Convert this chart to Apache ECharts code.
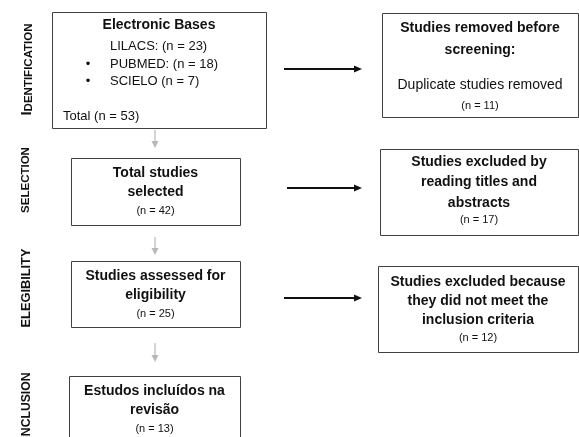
<!DOCTYPE html>
<html><head><meta charset="utf-8">
<script src="https://cdn.jsdelivr.net/npm/echarts@6/dist/echarts.min.js"></script>
<style>html,body{margin:0;padding:0;background:#fff}#c{width:579px;height:437px}</style>
</head><body><div id="c"></div>
<script>
// ---- data ----
const stages = ['IDENTIFICATION', 'SELECTION', 'ELEGIBILITY', 'INCLUSION'];
const sourceTitle = 'Electronic Bases';
const databases = ['LILACS:', 'PUBMED:', 'SCIELO'];
const databaseCounts = [23, 18, 7];
const databaseBullets = [false, true, true];
const identifiedTotal = 53;
const mainTitles = [['Total studies', 'selected'], ['Studies assessed for', 'eligibility'], ['Estudos incluídos na', 'revisão']];
const mainCounts = [42, 25, 13];
const sideTitles = [['Studies removed before', 'screening:'], ['Studies excluded by', 'reading titles and', 'abstracts'], ['Studies excluded because', 'they did not meet the', 'inclusion criteria']];
const sideNotes = ['Duplicate studies removed', null, null];
const sideCounts = [11, 17, 12];

// ---- layout (page units) ----
const FONT = '"Liberation Sans", Arial, Helvetica, sans-serif';
const identBox = [52, 12, 266, 128];
const mainBoxes = [[71, 158, 240, 225], [71, 261, 240, 327], [69, 376, 240, 446]];
const sideBoxes = [[382, 13, 578, 117], [380, 149, 578, 235], [378, 266, 578, 352]];
const sideLineY = [[28, 50, 85, 106], [162, 182, 203, 220], [282, 301, 320, 338]];
const flowArrows = [[155, 130, 155, 148], [155, 237, 155, 255], [155, 343, 155, 362]];
const sideArrows = [[284, 69, 362, 69], [287, 188, 362, 188], [284, 298, 362, 298]];
const stagePos = [[27, 69.5], [26, 180], [26, 288], [27, 406]];
const stageSize = [[15, 11.5], [11.5, 11.5], [12.8, 12.8], [12.2, 12.2]];

// ---- build nodes ----
const nodes = [];
{
  const lines = [{text: sourceTitle, x: (identBox[0] + identBox[2]) / 2, y: 25, size: 14, weight: 'bold'}];
  const dbY = [46.5, 64, 81.5];
  databases.forEach((d, i) => {
    if (databaseBullets[i]) lines.push({text: '•', x: 88, y: dbY[i], size: 13, weight: 'normal'});
    lines.push({text: d + ' (n = ' + databaseCounts[i] + ')', x: 110, y: dbY[i], size: 13, weight: 'normal', align: 'left'});
  });
  lines.push({text: 'Total (n = ' + identifiedTotal + ')', x: 63, y: 116, size: 13, weight: 'normal', align: 'left'});
  nodes.push({rect: identBox, lines});
}
mainTitles.forEach((t, k) => {
  const b = mainBoxes[k], cx = (b[0] + b[2]) / 2;
  const lines = [];
  let y = b[1] + 15;
  t.forEach((s, i) => { lines.push({text: s, x: cx, y, size: 14, weight: 'bold'}); y += 19.5; });
  lines.push({text: '(n = ' + mainCounts[k] + ')', x: cx, y: y - 1, size: 11, weight: 'normal'});
  nodes.push({rect: b, lines});
});
sideTitles.forEach((t, k) => {
  const b = sideBoxes[k], cx = (b[0] + b[2]) / 2;
  const ys = sideLineY[k];
  const lines = [];
  let j = 0;
  t.forEach(s => lines.push({text: s, x: cx, y: ys[j++], size: 14, weight: 'bold'}));
  if (sideNotes[k]) lines.push({text: sideNotes[k], x: cx, y: ys[j++], size: 14, weight: 'normal'});
  lines.push({text: '(n = ' + sideCounts[k] + ')', x: cx, y: ys[j++], size: 11, weight: 'normal'});
  nodes.push({rect: b, lines});
});

const arrowData = flowArrows.map(a => ({value: a, kind: 'flow'})).concat(sideArrows.map(a => ({value: a, kind: 'side'})));

const chart = echarts.init(document.getElementById('c'));

function renderBox(params, api) {
  const n = nodes[params.dataIndex];
  const p0 = api.coord([api.value(0), api.value(1)]);
  const p1 = api.coord([api.value(2), api.value(3)]);
  const children = [{
    type: 'rect',
    shape: {x: Math.round(p0[0]) + 0.5, y: Math.round(p0[1]) + 0.5, width: Math.round(p1[0] - p0[0]), height: Math.round(p1[1] - p0[1])},
    style: {fill: '#fff', stroke: '#404040', lineWidth: 1}
  }];
  n.lines.forEach(l => {
    const p = api.coord([l.x, l.y]);
    children.push({
      type: 'text', x: p[0], y: p[1],
      style: {text: l.text, fontSize: l.size, fontWeight: l.weight, fontFamily: FONT, fill: '#111',
              align: l.align || 'center', verticalAlign: 'middle'}
    });
  });
  return {type: 'group', children};
}

function renderArrow(params, api) {
  const kind = arrowData[params.dataIndex].kind;
  const p0 = api.coord([api.value(0), api.value(1)]);
  const p1 = api.coord([api.value(2), api.value(3)]);
  const dx = p1[0] - p0[0], dy = p1[1] - p0[1];
  const len = Math.sqrt(dx * dx + dy * dy);
  const ux = dx / len, uy = dy / len, nx = -uy, ny = ux;
  const color = kind === 'flow' ? '#b8b8b8' : '#111';
  const lw = kind === 'flow' ? 1.2 : 2;
  const L = kind === 'flow' ? 7 : 8, W = 3.5;
  const bx = p1[0] - ux * L, by = p1[1] - uy * L;
  return {type: 'group', children: [
    {type: 'line', shape: {x1: p0[0], y1: p0[1], x2: bx + ux * 1, y2: by + uy * 1}, style: {stroke: color, lineWidth: lw}},
    {type: 'polygon', shape: {points: [[p1[0], p1[1]], [bx + nx * W, by + ny * W], [bx - nx * W, by - ny * W]]}, style: {fill: color}}
  ]};
}

function renderStage(params, api) {
  const i = params.dataIndex;
  const p = api.coord([api.value(0), api.value(1)]);
  const s = stages[i], sz = stageSize[i];
  return {
    type: 'text', x: p[0], y: p[1], rotation: Math.PI / 2,
    style: {
      text: '{a|' + s[0] + '}{b|' + s.slice(1) + '}',
      align: 'center', verticalAlign: 'middle',
      rich: {
        a: {fontSize: sz[0], fontWeight: 'bold', fontFamily: FONT, fill: '#111', verticalAlign: 'bottom'},
        b: {fontSize: sz[1], fontWeight: 'bold', fontFamily: FONT, fill: '#111', verticalAlign: 'bottom'}
      }
    }
  };
}

chart.setOption({
  animation: false,
  backgroundColor: '#fff',
  grid: {left: 0, right: 0, top: 0, bottom: 0},
  xAxis: {type: 'value', min: 0, max: 579, show: false},
  yAxis: {type: 'value', min: 0, max: 437, inverse: true, show: false},
  series: [
    {type: 'custom', renderItem: renderArrow, data: arrowData.map(a => a.value), silent: true},
    {type: 'custom', renderItem: renderBox, data: nodes.map(n => n.rect), silent: true},
    {type: 'custom', renderItem: renderStage, data: stagePos, silent: true}
  ]
});
</script></body></html>
